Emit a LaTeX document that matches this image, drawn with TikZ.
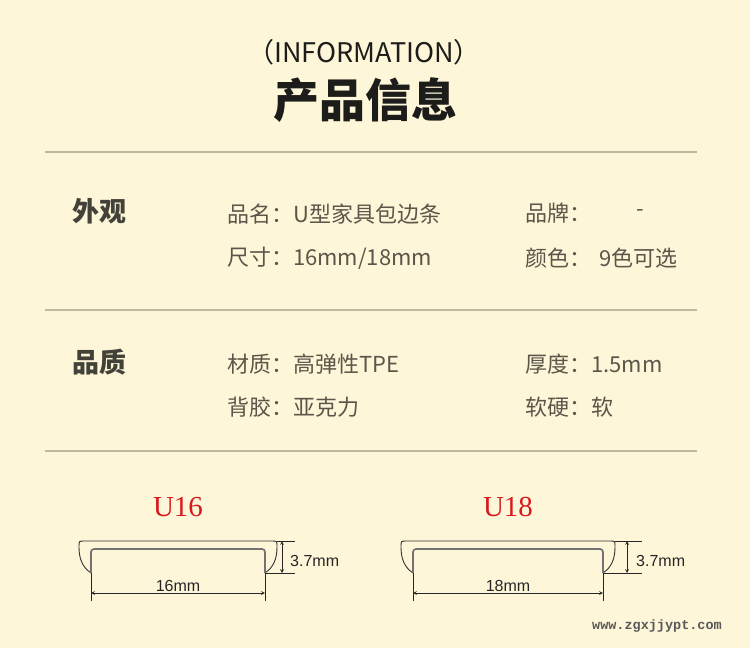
\documentclass[tikz,border=0pt]{standalone}
\usepackage{fontspec}
\setmainfont{Noto Sans CJK SC}
\newfontfamily\serifu{Liberation Serif}
\newfontfamily\dimfont{Liberation Sans}
\newfontfamily\webfont{Liberation Mono}
\usetikzlibrary{arrows}
\definecolor{bgcream}{HTML}{FEF6D8}
\definecolor{rulegray}{HTML}{BDB89E}
\definecolor{headtext}{HTML}{1C1C1A}
\definecolor{sectext}{HTML}{43423A}
\definecolor{itemtext}{HTML}{5B564A}
\definecolor{ured}{HTML}{D71A20}
\tikzset{
    sechead/.style={anchor=west, text=sectext, inner sep=0pt, font=\fontsize{27}{30}\selectfont\bfseries},
    item/.style={anchor=west, text=itemtext, inner sep=0pt, font=\fontsize{22}{25}\selectfont},
    seprule/.style={draw=rulegray, line width=1.2pt},
    utag/.style={text=ured, inner sep=0pt, font=\serifu\fontsize{29}{32}\selectfont},
    shell/.style={draw=black!80, line width=0.9pt},
    core/.style={draw=black!55, line width=1.7pt, rounded corners=3pt},
    dimline/.style={draw=black!85, line width=0.7pt},
    dimlabel/.style={inner sep=0pt, text=black!85, font=\dimfont\fontsize{16}{18}\selectfont},
}

\begin{document}
\begin{tikzpicture}[x=1pt,y=-1pt]
\fill[bgcream] (0,0) rectangle (750,648);
\useasboundingbox (0,0) rectangle (750,648);
\node[inner sep=0pt,text=headtext,font=\fontsize{27}{30}\selectfont] (infoen) at (364,52) {（INFORMATION）};
\node[inner sep=0pt,text=headtext,font=\fontsize{46}{50}\selectfont\bfseries] (infocn) at (365,100) {产品信息};
\draw[seprule] (45,152) -- (697,152);
% appearance
\node[sechead] (looks) at (72,211) {外观};
\node[item] (pname) at (227,214) {品名：U型家具包边条};
\node[item] (psize) at (227,258) {尺寸：16mm/18mm};
\node[item] (brand) at (525,213) {品牌：};
\node[item] (brandval) at (636,213) {-};
\node[item] (pcolor) at (525,258) {颜色：};
\node[item] (pcolorval) at (599,258) {9色可选};
\draw[seprule] (45,310) -- (697,310);
% quality
\node[sechead] (quality) at (72,362) {品质};
\node[item] (material) at (227,364) {材质：高弹性TPE};
\node[item] (glue) at (227,407) {背胶：亚克力};
\node[item] (thick) at (525,364) {厚度：1.5mm};
\node[item] (hard) at (525,407) {软硬：软};
\draw[seprule] (45,451) -- (697,451);
% profiles
\foreach \L/\R/\ax/\ex/\tx/\wid in {91/265/282/295/290/16, 413/603/627/642/636/18}{
    \node[utag] (tag\wid) at ({(\L+\R)/2},507) {U\wid};
    \draw[shell] (\L,573) .. controls (\L-9,567) and (\L-12,558) .. (\L-12,547)
        .. controls (\L-12,541) .. (\L-7,541) -- (\R+7,541)
        .. controls (\R+12,541) .. (\R+12,547)
        .. controls (\R+12,558) and (\R+9,567) .. (\R,573);
    \draw[core] (\L,573) -- (\L,549) -- (\R,549) -- (\R,573);
    \coordinate (top\wid) at (\ax,541);
    \coordinate (bot\wid) at (\ax,573);
    \coordinate (lft\wid) at (\L,593);
    \coordinate (rgt\wid) at (\R,593);
    \draw[dimline] (\R+12,541) -- (\ex,541);
    \draw[dimline] (\R,573) -- (\ex,573);
    \draw[dimline] (\L,573) -- (\L,601);
    \draw[dimline] (\R,573) -- (\R,601);
    \draw[dimline,stealth-stealth] (top\wid) -- (bot\wid);
    \draw[dimline,stealth-stealth] (lft\wid) -- (rgt\wid);
    \node[dimlabel,anchor=west] (high\wid) at (\tx,561) {3.7mm};
    \node[dimlabel,anchor=base] (wide\wid) at ({(\L+\R)/2},591) {\wid mm};
}
\node[inner sep=0pt,text=black!65,font=\webfont\bfseries\fontsize{13.5}{15}\selectfont] (web) at (657,626) {www.zgxjjypt.com};
\end{tikzpicture}
\end{document}
